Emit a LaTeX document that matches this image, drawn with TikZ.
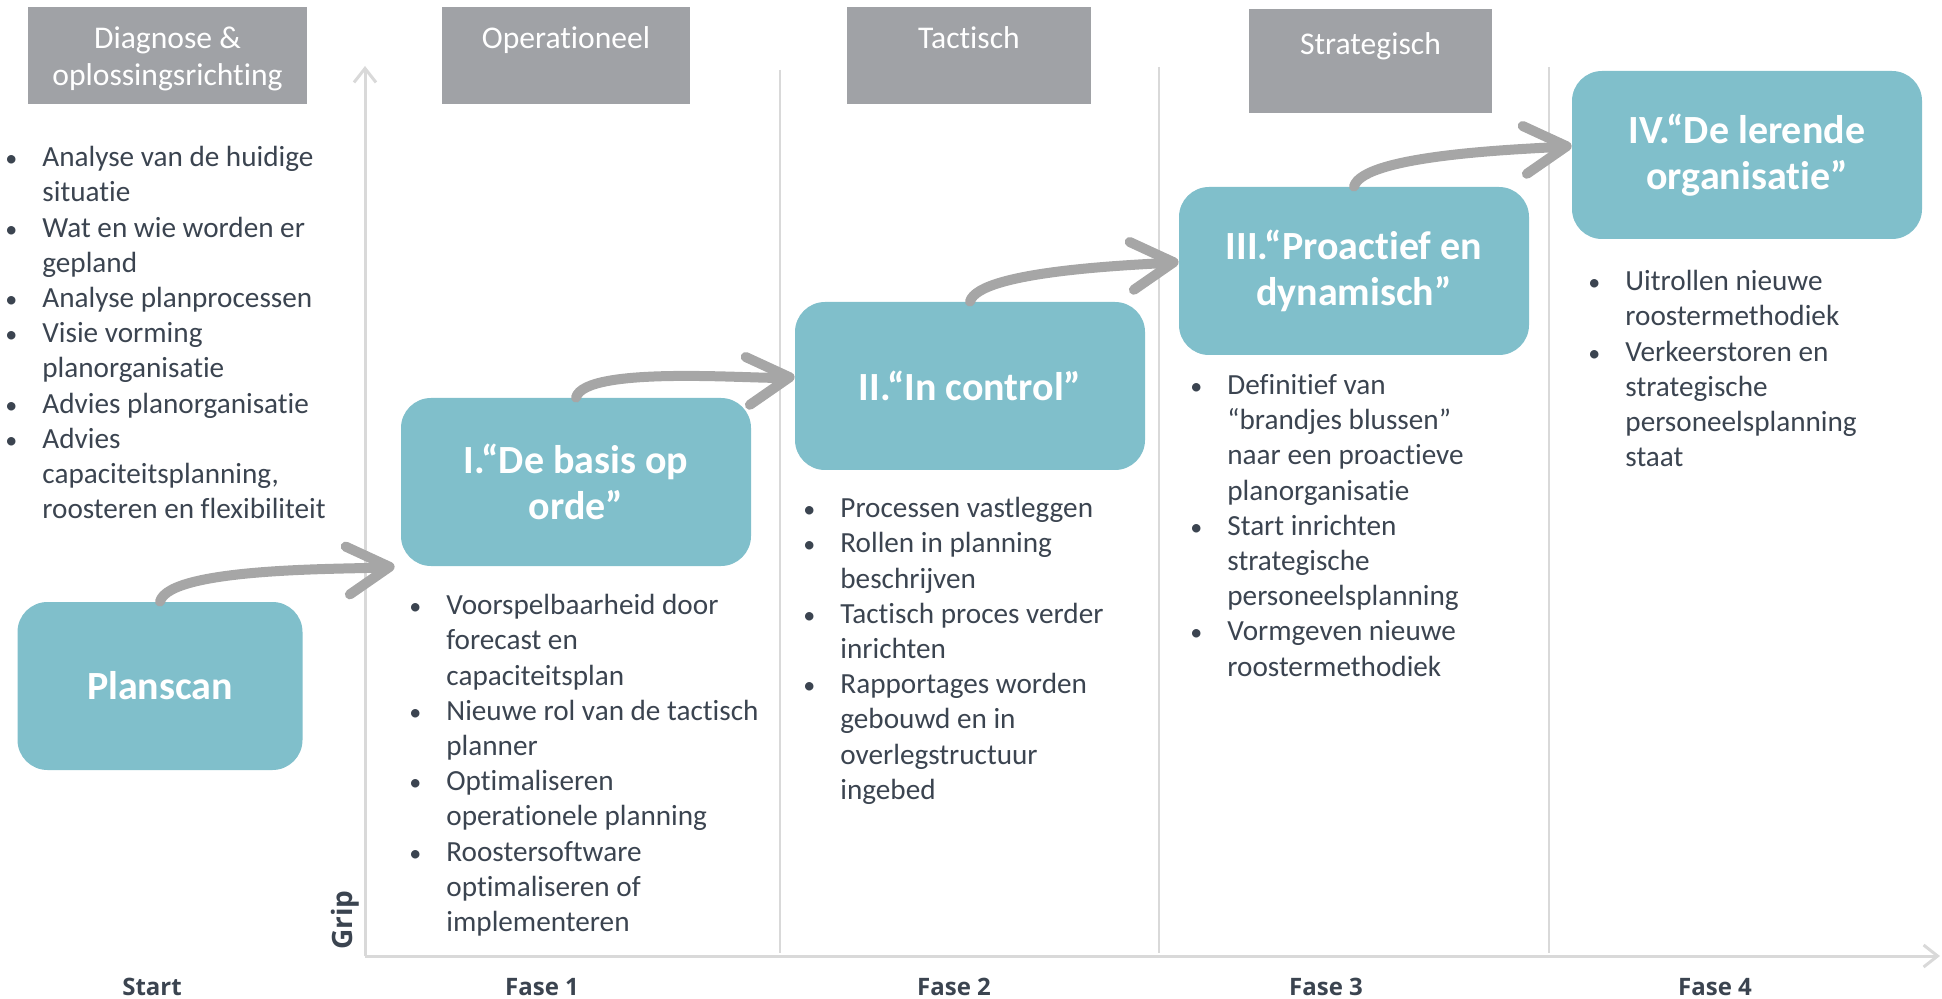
\documentclass[tikz,border=0pt]{standalone}
\usepackage{fontspec}
\setmainfont{Carlito}[Ligatures={NoCommon,NoContextual,NoRequired},Contextuals=NoAlternate]
\newfontfamily\labfont{Open Sans}
\usetikzlibrary{arrows.meta}
\definecolor{tealbox}{RGB}{128,191,203}
\definecolor{headgrey}{RGB}{160,162,166}
\definecolor{arrowgrey}{RGB}{166,166,166}
\definecolor{axisgrey}{RGB}{217,217,217}
\definecolor{txtgrey}{RGB}{59,68,80}
\newcommand{\bul}{\makebox[16pt][l]{\hspace*{-2.5pt}{\fontsize{12}{12}\selectfont\textbullet}}}
\newcommand{\ind}{\hspace*{16pt}}
\newcommand{\hstrut}{\rule{0pt}{17.5pt}}

\begin{document}
\begin{tikzpicture}[x=0.5pt,y=-0.5pt,
  phase/.style={rectangle,rounded corners=15pt,fill=tealbox,text=white,align=center,
    font=\fontsize{20}{23}\selectfont\bfseries,minimum width=175pt,minimum height=84pt},
  head/.style={rectangle,fill=headgrey,text=white,align=center,
    font=\fontsize{15.8}{18.5}\selectfont,minimum height=48.5pt},
  items/.style={anchor=north west,inner sep=0pt,align=left,text=txtgrey,
    font=\fontsize{14.6}{17.6}\selectfont},
  faselabel/.style={text=txtgrey,font=\labfont\bfseries\fontsize{12}{14}\selectfont},
  axisline/.style={draw=axisgrey,line width=1.5pt,-{Straight Barb[length=7pt,width=11pt]}},
  sepline/.style={draw=axisgrey,line width=1pt},
  jump/.style={draw=arrowgrey,line width=5pt,line cap=round,
    -{Straight Barb[length=21pt,width=24pt,round]}}]
\useasboundingbox (0,0) rectangle (1942,999);

% axes
\coordinate (origin) at (365,956);
\coordinate (ytop) at (365,66);
\coordinate (xend) at (1940,956);
\draw[sepline] (780,70) -- (780,953);
\draw[sepline] (1159,67) -- (1159,953);
\draw[sepline] (1549,67) -- (1549,953);
\draw[axisline] (origin) -- (ytop);
\draw[axisline] (origin) -- (xend);

% headers
\node[head,minimum width=139.5pt] (hdiag) at (167.5,55.5) {\hstrut Diagnose \&\\\strut oplossingsrichting};
\node[head,minimum width=124pt] (hoper) at (566,55.5) {\hstrut Operationeel\\\strut};
\node[head,minimum width=122pt] (htact) at (969,55.5) {\hstrut Tactisch\\\strut};
\node[head,minimum width=121.5pt,minimum height=52pt] (hstrat) at (1370.5,61) {\hstrut Strategisch\\\strut};

% phases
\node[phase,minimum width=142.5pt] (plan) at (160,686) {Planscan};
\node[phase] (fase1) at (576,482) {I.“De basis op\\orde”};
\node[phase] (fase2) at (970,386) {II.“In control”};
\node[phase] (fase3) at (1354,271) {III.“Proactief en\\dynamisch”};
\node[phase] (fase4) at (1747,155) {IV.“De lerende\\organisatie”};

\draw[jump] (plan.north) to[out=75,in=185,looseness=0.4] ([xshift=-3pt]fase1.south west);
\draw[jump] (fase1.north) to[out=75,in=185,looseness=0.4] (fase2.177);
\draw[jump] (fase2.north) to[out=75,in=185,looseness=0.4] (fase3.177);
\draw[jump] (fase3.north) to[out=75,in=185,looseness=0.4] (fase4.177);

% lists
\node[items] (ldiag) at (10,146) {\bul Analyse van de huidige\\\ind situatie\\
  \bul Wat en wie worden er\\\ind gepland\\
  \bul Analyse planprocessen\\
  \bul Visie vorming\\\ind planorganisatie\\
  \bul Advies planorganisatie\\
  \bul Advies\\\ind capaciteitsplanning,\\\ind roosteren en flexibiliteit};
\node[items] (lfase1) at (414,594) {\bul Voorspelbaarheid door\\\ind forecast en\\\ind capaciteitsplan\\
  \bul Nieuwe rol van de tactisch\\\ind planner\\
  \bul Optimaliseren\\\ind operationele planning\\
  \bul Roostersoftware\\\ind optimaliseren of\\\ind implementeren};
\node[items] (lfase2) at (808,497) {\bul Processen vastleggen\\
  \bul Rollen in planning\\\ind beschrijven\\
  \bul Tactisch proces verder\\\ind inrichten\\
  \bul Rapportages worden\\\ind gebouwd en in\\\ind overlegstructuur\\\ind ingebed};
\node[items] (lfase3) at (1195,374) {\bul Definitief van\\\ind “brandjes blussen”\\\ind naar een proactieve\\\ind planorganisatie\\
  \bul Start inrichten\\\ind strategische\\\ind personeelsplanning\\
  \bul Vormgeven nieuwe\\\ind roostermethodiek};
\node[items] (lfase4) at (1593,270) {\bul Uitrollen nieuwe\\\ind roostermethodiek\\
  \bul Verkeerstoren en\\\ind strategische\\\ind personeelsplanning\\\ind staat};

% labels
\node[faselabel] (start) at (152,987) {Start};
\node[faselabel] (lab1) at (542,987) {Fase 1};
\node[faselabel] (lab2) at (954,987) {Fase 2};
\node[faselabel] (lab3) at (1326,987) {Fase 3};
\node[faselabel] (lab4) at (1715,987) {Fase 4};
\node[faselabel,rotate=90,font=\labfont\bfseries\fontsize{14}{16}\selectfont] (grip) at (345,920) {Grip};
\end{tikzpicture}
\end{document}
